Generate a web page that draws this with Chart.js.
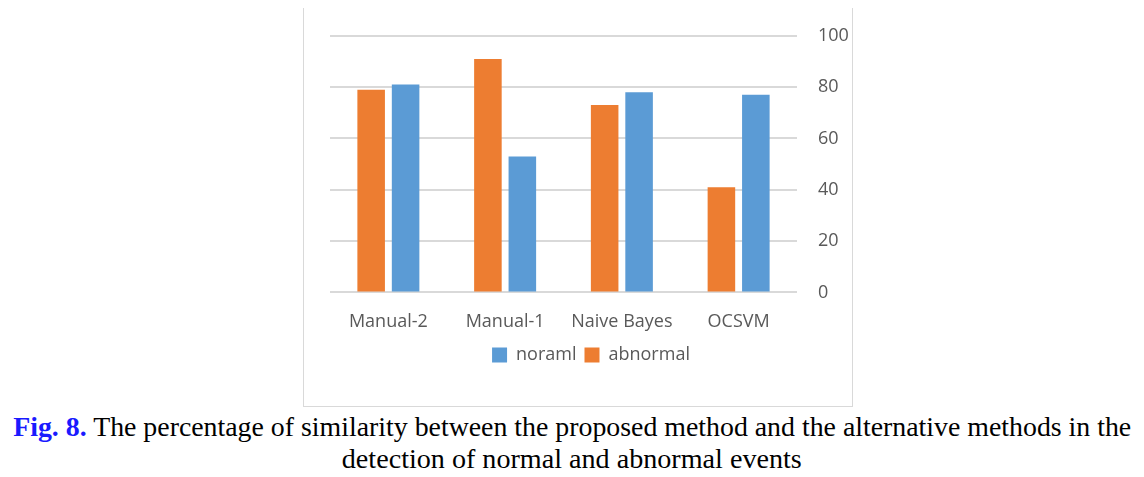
<!DOCTYPE html>
<html>
<head>
<meta charset="utf-8">
<script src="https://cdn.jsdelivr.net/npm/chart.js@4/dist/chart.umd.min.js"></script>
<style>
  body { margin: 0; background: #fff; width: 1144px; height: 477px; position: relative; overflow: hidden; }
  #marco { position: absolute; left: 303px; top: 8px; width: 548px; height: 398px; border: 1px solid #d9d9d9; border-top: none; }
  #marco canvas { position: absolute; left: 0; top: -4px; }
  .pie { position: absolute; left: 0; width: 1144px; text-align: center; font-family: "Liberation Serif", serif; font-size: 27px; line-height: 30px; color: #000; white-space: nowrap; }
  .pie span.inner { display: inline-block; transform-origin: center; }
  .fig { color: #1a1aff; font-weight: bold; }
</style>
</head>
<body>
<div id="marco"><canvas id="grafico" width="548" height="398"></canvas></div>
<div class="pie" style="top:412px"><span class="inner" id="linea1"><span class="fig">Fig. 8.</span> The percentage of similarity between the proposed method and the alternative methods in the</span></div>
<div class="pie" style="top:444px"><span class="inner" id="linea2">detection of normal and abnormal events</span></div>
<script>
// Datos del gráfico
const metodos = ["Manual-2", "Manual-1", "Naive Bayes", "OCSVM"];
const valoresAnormal = [79, 91, 73, 41];
const valoresNormal = [81, 53, 78, 77];
const marcasY = [0, 20, 40, 60, 80, 100];

const fuente = { family: "'Open Sans', 'Noto Sans', sans-serif", size: 18 };

// Subir un poco la leyenda
const subirLeyenda = {
    id: 'subirLeyenda',
    afterLayout(chart) {
        chart.legend.top -= 6;
        chart.legend.bottom -= 6;
    }
};

const ctx = document.getElementById('grafico').getContext('2d');
const grafico = new Chart(ctx, {
    type: 'bar',
    data: {
        labels: metodos,
        datasets: [{
            label: 'abnormal',
            data: valoresAnormal,
            backgroundColor: '#ED7D31'
        }, {
            label: 'noraml',
            data: valoresNormal,
            backgroundColor: '#5B9BD5'
        }]
    },
    options: {
        responsive: false,
        animation: false,
        layout: { padding: { top: 11, left: 26, right: 0, bottom: 22 } },
        datasets: { bar: { categoryPercentage: 0.59, barPercentage: 0.8 } },
        scales: {
            x: {
                grid: { display: false },
                border: { display: false },
                ticks: { color: '#595959', font: fuente, padding: 11, maxRotation: 0 }
            },
            y: {
                position: 'right',
                min: 0,
                max: 100,
                afterBuildTicks: function(eje) {
                    eje.ticks = marcasY.map(v => ({ value: v }));
                },
                afterFit: function(eje) { eje.width = 55; },
                grid: { color: '#d9d9d9', lineWidth: 2, drawTicks: false },
                border: { display: false },
                ticks: { color: '#595959', font: fuente, padding: 21 }
            }
        },
        plugins: {
            tooltip: { enabled: false },
            legend: {
                position: 'bottom',
                labels: {
                    color: '#595959',
                    font: fuente,
                    boxWidth: 15,
                    boxHeight: 15,
                    padding: 8,
                    sort: (a, b) => b.datasetIndex - a.datasetIndex
                }
            }
        }
    },
    plugins: [subirLeyenda]
});

// Ajustar el ancho del pie de figura
function ajustar(id, ancho) {
    const el = document.getElementById(id);
    const w = el.getBoundingClientRect().width;
    el.style.transform = 'scaleX(' + (ancho / w) + ')';
}
ajustar('linea1', 1118);
ajustar('linea2', 460);
</script>
</body>
</html>
